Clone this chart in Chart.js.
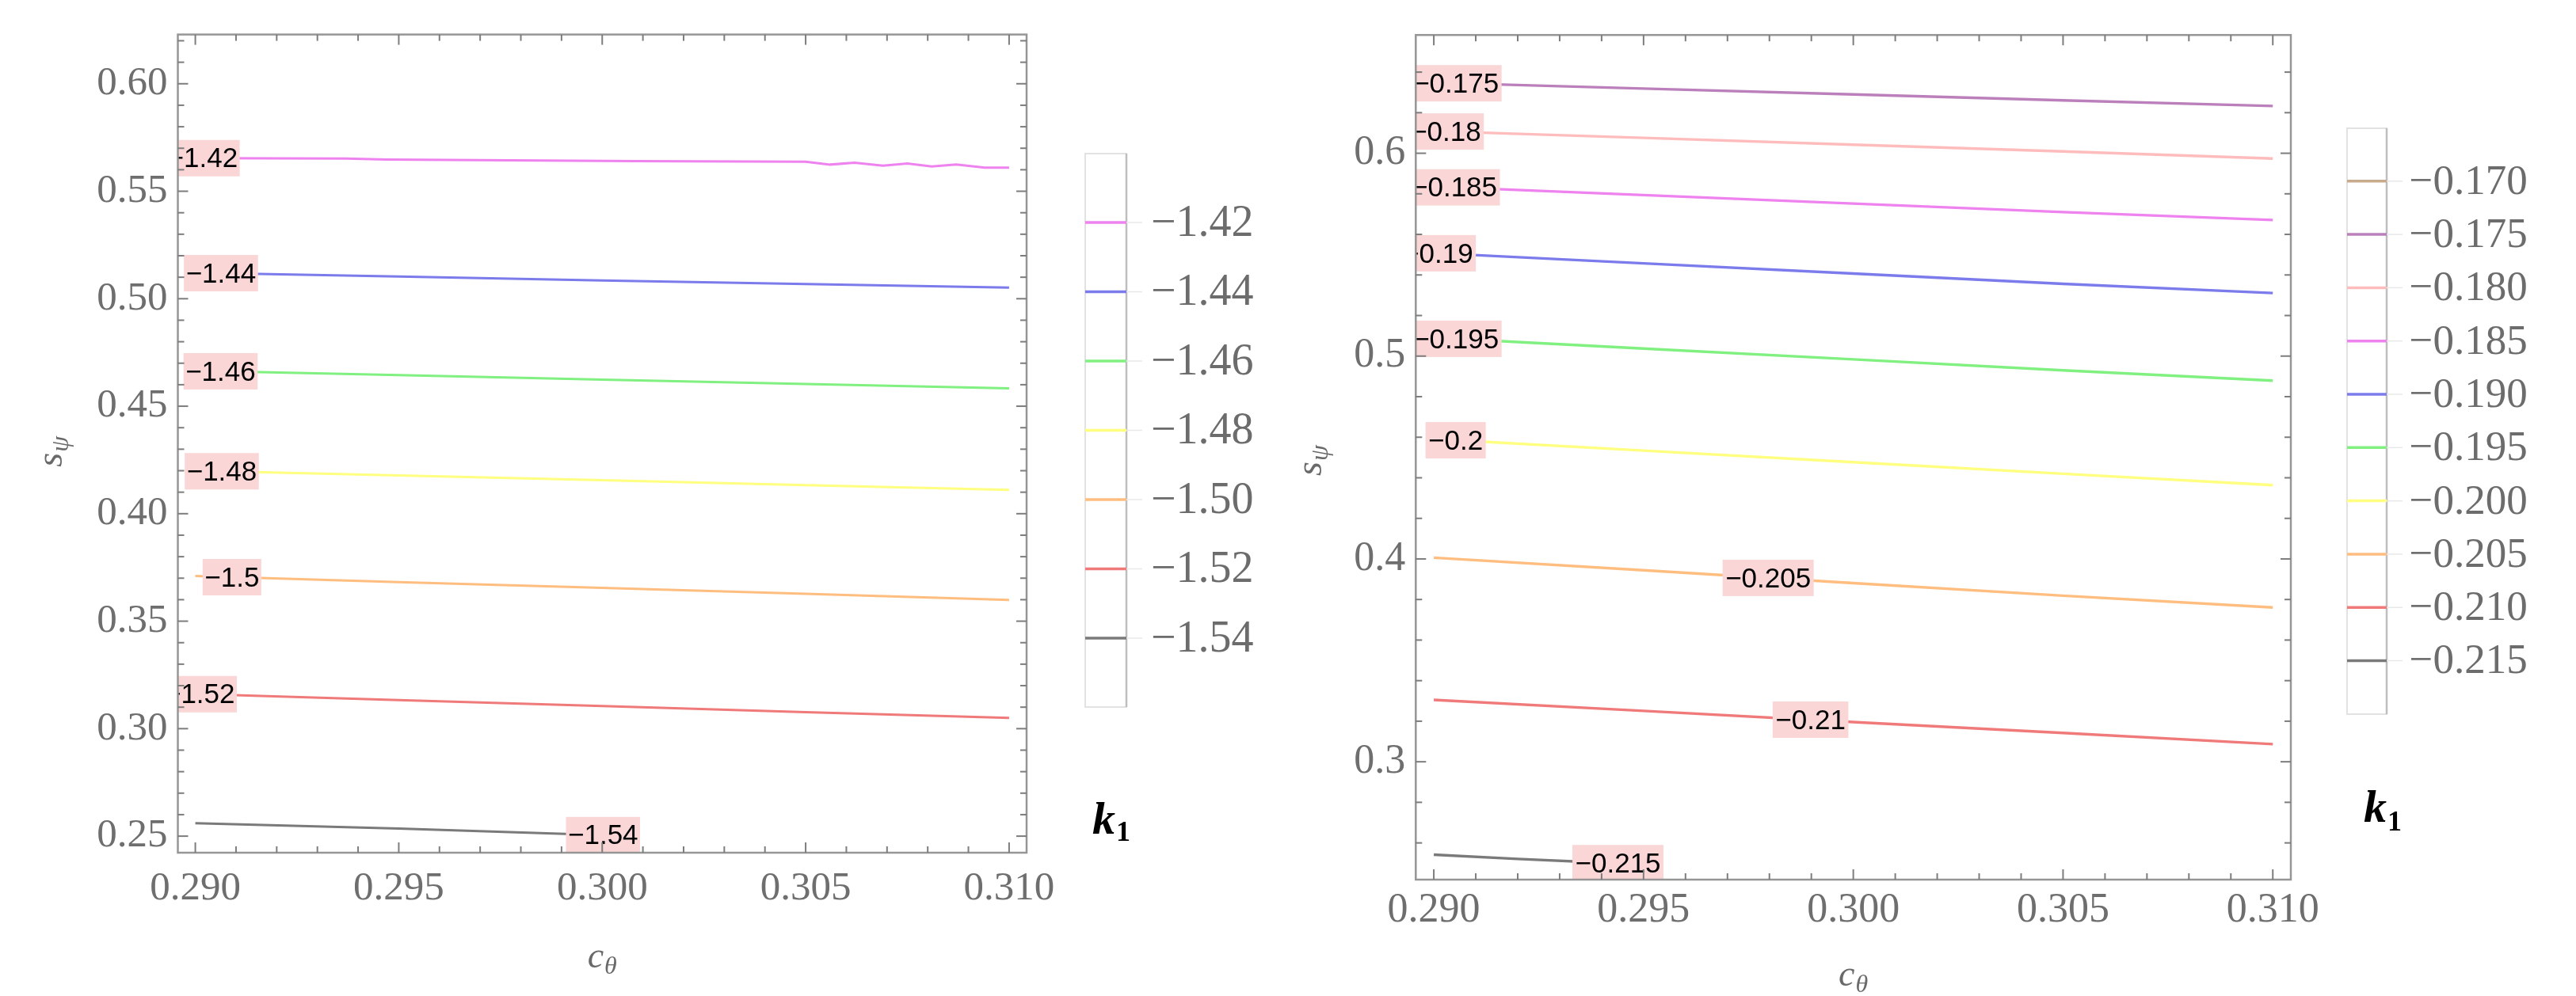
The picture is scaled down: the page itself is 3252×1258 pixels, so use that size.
<!DOCTYPE html>
<html><head><meta charset="utf-8">
<script src="https://cdn.jsdelivr.net/npm/chart.js@4.4.0/dist/chart.umd.min.js"></script>
<style>
html,body{margin:0;padding:0;background:#fff;}
body{width:3252px;height:1258px;position:relative;overflow:hidden;}
canvas{position:absolute;top:0;}
</style></head><body>
<canvas id="c1" width="1626" height="1258" style="left:0px"></canvas>
<canvas id="c2" width="1626" height="1258" style="left:1626px"></canvas>
<script>
// ================= DATA =================
// common x tick values / labels (c_theta)
const xTicks = [0.290, 0.295, 0.300, 0.305, 0.310];
const xTickLabels = ['0.290', '0.295', '0.300', '0.305', '0.310'];

// ---- left panel ----
const yTicksA = [0.25, 0.30, 0.35, 0.40, 0.45, 0.50, 0.55, 0.60];
const yTickLabelsA = ['0.25', '0.30', '0.35', '0.40', '0.45', '0.50', '0.55', '0.60'];
const levelsA = [-1.42, -1.44, -1.46, -1.48, -1.50, -1.52, -1.54];
const legendLabelsA = ['\u22121.42', '\u22121.44', '\u22121.46', '\u22121.48', '\u22121.50', '\u22121.52', '\u22121.54'];
const contourLabelsA = ['\u22121.42', '\u22121.44', '\u22121.46', '\u22121.48', '\u22121.5', '\u22121.52', '\u22121.54'];
const colorsA = ['#ee82ee', '#7b7bec', '#80f080', '#ffff80', '#ffbe80', '#f07a7a', '#7a7a7a'];
const xA_142 = [0.290, 0.2937, 0.2947, 0.3008, 0.3050, 0.3056, 0.3062, 0.3069, 0.3075, 0.3081, 0.3087, 0.3094, 0.3100];
const yA_142 = [0.5654, 0.5652, 0.5647, 0.5640, 0.5637, 0.5624, 0.5633, 0.5619, 0.5629, 0.5615, 0.5624, 0.5610, 0.5610];
const xA = [0.290, 0.295, 0.300, 0.305, 0.310];
const yA_144 = [0.5121, 0.5103, 0.5085, 0.5068, 0.5052];
const yA_146 = [0.4665, 0.4645, 0.4624, 0.4603, 0.4583];
const yA_148 = [0.4200, 0.4178, 0.4156, 0.4133, 0.4111];
const yA_150 = [0.3710, 0.3682, 0.3655, 0.3627, 0.3599];
const yA_152 = [0.3161, 0.3133, 0.3105, 0.3077, 0.3050];
const xA_154 = [0.290, 0.295, 0.300, 0.3008];
const yA_154 = [0.2560, 0.2535, 0.2505, 0.2500];
const labelXA = [0.29018, 0.29063, 0.29062, 0.29065, 0.29090, 0.29011, 0.30002];

// ---- right panel ----
const yTicksB = [0.3, 0.4, 0.5, 0.6];
const yTickLabelsB = ['0.3', '0.4', '0.5', '0.6'];
const levelsB = [-0.170, -0.175, -0.180, -0.185, -0.190, -0.195, -0.200, -0.205, -0.210, -0.215];
const legendLabelsB = ['\u22120.170', '\u22120.175', '\u22120.180', '\u22120.185', '\u22120.190', '\u22120.195', '\u22120.200', '\u22120.205', '\u22120.210', '\u22120.215'];
const legendColorsB = ['#c8aa8c', '#bb80bb', '#ffbcbc', '#ee82ee', '#7b7bec', '#80f080', '#ffff80', '#ffbe80', '#f07a7a', '#7a7a7a'];
const contourLabelsB = ['\u22120.175', '\u22120.18', '\u22120.185', '\u22120.19', '\u22120.195', '\u22120.2', '\u22120.205', '\u22120.21', '\u22120.215'];
const colorsB = ['#bb80bb', '#ffbcbc', '#ee82ee', '#7b7bec', '#80f080', '#ffff80', '#ffbe80', '#f07a7a', '#7a7a7a'];
const xB = [0.290, 0.295, 0.300, 0.305, 0.310];
const yB_175 = [0.6348, 0.6319, 0.6290, 0.6261, 0.6233];
const yB_180 = [0.6109, 0.6076, 0.6042, 0.6009, 0.5974];
const yB_185 = [0.5836, 0.5794, 0.5752, 0.5710, 0.5671];
const yB_190 = [0.5508, 0.5457, 0.5407, 0.5356, 0.5311];
const yB_195 = [0.5091, 0.5037, 0.4984, 0.4930, 0.4879];
const yB_200 = [0.4591, 0.4534, 0.4477, 0.4420, 0.4364];
const yB_205 = [0.4006, 0.3944, 0.3881, 0.3819, 0.3761];
const yB_210 = [0.3305, 0.3251, 0.3196, 0.3142, 0.3087];
const xB_215 = [0.290, 0.292, 0.2943];
const yB_215 = [0.2542, 0.2521, 0.2500];
const labelXB = [0.29053, 0.29029, 0.29049, 0.29010, 0.29053, 0.29052, 0.29797, 0.29898, 0.29439];

// ================= RENDERING =================
const SERIF = "'Liberation Serif','Times New Roman',serif";
const SANS = "'Liberation Sans',Arial,sans-serif";

function interp(xs, ys, x) {
  if (x <= xs[0]) return ys[0];
  for (let i = 1; i < xs.length; i++) {
    if (x <= xs[i]) { const t = (x - xs[i-1]) / (xs[i] - xs[i-1]); return ys[i-1] + t * (ys[i] - ys[i-1]); }
  }
  return ys[ys.length - 1];
}

function drawSub(ctx, main, sub, cx, baseY, mainFont, subFont, drop, color) {
  ctx.font = mainFont; const w1 = ctx.measureText(main).width;
  ctx.font = subFont; const w2 = ctx.measureText(sub).width;
  const x = cx - (w1 + w2 + 1) / 2;
  ctx.fillStyle = color; ctx.textAlign = 'left'; ctx.textBaseline = 'alphabetic';
  ctx.font = mainFont; ctx.fillText(main, x, baseY);
  ctx.font = subFont; ctx.fillText(sub, x + w1 + 1, baseY + drop);
}

function makeChart(id, cfg) {
  const datasets = cfg.contours.map((c, i) => ({
    label: cfg.contourLabels[i],
    data: c.x.map((x, j) => ({ x: x, y: c.y[j] })),
    borderColor: cfg.colors[i], backgroundColor: cfg.colors[i],
    borderWidth: cfg.lineW, showLine: true, pointRadius: 0, pointHoverRadius: 0, tension: 0, fill: false
  }));

  const decor = {
    id: 'decor',
    afterDatasetsDraw(chart) {
      const ctx = chart.ctx, a = chart.chartArea, xs = chart.scales.x, ys = chart.scales.y;
      // contour labels
      ctx.save();
      ctx.beginPath(); ctx.rect(a.left, a.top, a.right - a.left, a.bottom - a.top); ctx.clip();
      ctx.font = cfg.lblFont + 'px ' + SANS;
      cfg.contours.forEach((c, i) => {
        const lx = cfg.labelX[i];
        const ly = interp(c.x, c.y, lx);
        const px = xs.getPixelForValue(lx), py = ys.getPixelForValue(ly);
        const t = cfg.contourLabels[i];
        const w = ctx.measureText(t).width + 2 * cfg.lblPad, h = cfg.lblH;
        ctx.fillStyle = 'rgb(250,214,214)';
        ctx.fillRect(px - w / 2, py - h / 2, w, h);
        ctx.fillStyle = '#000';
        ctx.textAlign = 'center'; ctx.textBaseline = 'middle';
        ctx.fillText(t, px, py + 2);
      });
      ctx.restore();
    },
    afterDraw(chart) {
      const ctx = chart.ctx, a = chart.chartArea, xs = chart.scales.x, ys = chart.scales.y;
      ctx.save();
      // frame
      ctx.strokeStyle = 'rgb(150,150,150)'; ctx.lineWidth = 2.5;
      ctx.strokeRect(a.left, a.top, a.right - a.left, a.bottom - a.top);
      // ticks
      ctx.strokeStyle = 'rgb(125,125,125)'; ctx.lineWidth = 2;
      const tick = (x1, y1, x2, y2) => { ctx.beginPath(); ctx.moveTo(x1, y1); ctx.lineTo(x2, y2); ctx.stroke(); };
      const xmaj = cfg.xTicks, ymaj = cfg.yTicks;
      for (let k = Math.ceil(xs.min / cfg.xMinor - 1e-6); k * cfg.xMinor <= xs.max + 1e-9; k++) {
        const v = k * cfg.xMinor;
        const major = xmaj.some(m => Math.abs(m - v) < 1e-7);
        const L = major ? 13 : 8, p = xs.getPixelForValue(v);
        tick(p, a.bottom, p, a.bottom - L); tick(p, a.top, p, a.top + L);
      }
      for (let k = Math.ceil(ys.min / cfg.yMinor - 1e-6); k * cfg.yMinor <= ys.max + 1e-9; k++) {
        const v = k * cfg.yMinor;
        const major = ymaj.some(m => Math.abs(m - v) < 1e-7);
        const L = major ? 13 : 8, p = ys.getPixelForValue(v);
        tick(a.left, p, a.left + L, p); tick(a.right, p, a.right - L, p);
      }
      // axis titles
      const tc = 'rgb(105,105,105)';
      drawSub(ctx, 'c', '\u03b8', (a.left + a.right) / 2, cfg.xTitleBase,
        'italic ' + cfg.titleSize + 'px ' + SERIF, 'italic ' + Math.round(cfg.titleSize * 0.7) + 'px ' + SERIF, 8, tc);
      ctx.save();
      ctx.translate(cfg.yTitleBase, (a.top + a.bottom) / 2 + cfg.yTitleShift);
      ctx.rotate(-Math.PI / 2);
      drawSub(ctx, 's', '\u03c8', 0, 0,
        'italic ' + cfg.titleSize + 'px ' + SERIF, 'italic ' + Math.round(cfg.titleSize * 0.7) + 'px ' + SERIF, 8, tc);
      ctx.restore();
      // legend
      const L = cfg.legend;
      ctx.strokeStyle = 'rgb(226,226,226)'; ctx.lineWidth = 2;
      ctx.strokeRect(L.x0, L.y0, L.x1 - L.x0, L.y1 - L.y0);
      ctx.strokeStyle = 'rgb(190,190,190)'; ctx.lineWidth = 2.5;
      tick(L.x1, L.y0, L.x1, L.y1);
      ctx.font = L.font + 'px ' + SERIF;
      ctx.textAlign = 'left'; ctx.textBaseline = 'middle';
      cfg.legendLabels.forEach((t, i) => {
        const y = L.ey0 + i * L.step;
        ctx.strokeStyle = 'rgb(232,232,232)'; ctx.lineWidth = 1.5;
        tick(L.x1, y, L.x1 + 20, y);
        ctx.strokeStyle = cfg.legendColors[i]; ctx.lineWidth = 3.5;
        tick(L.x0, y, L.x1, y);
        ctx.fillStyle = 'rgb(108,108,108)';
        ctx.fillText(t, L.tx, y + 2);
      });
      // k_1 title
      ctx.fillStyle = '#000'; ctx.textBaseline = 'alphabetic';
      ctx.font = 'italic bold 58px ' + SERIF;
      ctx.fillText('k', L.kx, L.kBase);
      const kw = ctx.measureText('k').width;
      ctx.font = 'bold 36px ' + SERIF;
      ctx.fillText('1', L.kx + kw + 1, L.kBase + L.kDrop);
      ctx.restore();
    }
  };

  return new Chart(document.getElementById(id), {
    type: 'scatter',
    data: { datasets: datasets },
    options: {
      responsive: false, animation: false, devicePixelRatio: 1,
      layout: { padding: { top: cfg.padTop, right: cfg.padRight, left: 0, bottom: 0 } },
      plugins: { legend: { display: false }, tooltip: { enabled: false }, title: { display: false } },
      scales: {
        x: {
          type: 'linear', min: cfg.xMin, max: cfg.xMax,
          grid: { display: false, drawTicks: false }, border: { display: false },
          afterBuildTicks: s => { s.ticks = cfg.xTicks.map(v => ({ value: v })); },
          afterFit: s => { s.height = cfg.xAxisH; },
          ticks: {
            autoSkip: false, maxRotation: 0, padding: cfg.xPad, color: 'rgb(110,110,110)',
            font: { family: SERIF, size: cfg.tickSize },
            callback: (v, i) => cfg.xTickLabels[i]
          }
        },
        y: {
          type: 'linear', min: cfg.yMin, max: cfg.yMax,
          grid: { display: false, drawTicks: false }, border: { display: false },
          afterBuildTicks: s => { s.ticks = cfg.yTicks.map(v => ({ value: v })); },
          afterFit: s => { s.width = cfg.yAxisW; },
          ticks: {
            autoSkip: false, padding: 13, color: 'rgb(110,110,110)',
            font: { family: SERIF, size: cfg.tickSize },
            callback: (v, i) => cfg.yTickLabels[i]
          }
        }
      }
    },
    plugins: [decor]
  });
}

makeChart('c1', {
  contours: [
    { x: xA_142, y: yA_142 }, { x: xA, y: yA_144 }, { x: xA, y: yA_146 }, { x: xA, y: yA_148 },
    { x: xA, y: yA_150 }, { x: xA, y: yA_152 }, { x: xA_154, y: yA_154 }
  ],
  contourLabels: contourLabelsA, colors: colorsA, labelX: labelXA,
  legendLabels: legendLabelsA, legendColors: colorsA,
  xTicks: xTicks, xTickLabels: xTickLabels, yTicks: yTicksA, yTickLabels: yTickLabelsA,
  xMin: 0.28957, xMax: 0.31043, yMin: 0.2423, yMax: 0.6229,
  xMinor: 0.001, yMinor: 0.01,
  padTop: 6, padRight: 330, yAxisW: 224.5, xAxisH: 181, xPad: 15,
  tickSize: 51, titleSize: 46, xTitleBase: 1222, yTitleBase: 78, yTitleShift: 10,
  lineW: 3, lblFont: 35, lblPad: 2.5, lblH: 46,
  legend: { x0: 1370, x1: 1422, y0: 194, y1: 893, ey0: 281, step: 87.5, tx: 1453, font: 56,
            kx: 1379, kBase: 1053, kDrop: 9 }
});

makeChart('c2', {
  contours: [
    { x: xB, y: yB_175 }, { x: xB, y: yB_180 }, { x: xB, y: yB_185 }, { x: xB, y: yB_190 },
    { x: xB, y: yB_195 }, { x: xB, y: yB_200 }, { x: xB, y: yB_205 }, { x: xB, y: yB_210 },
    { x: xB_215, y: yB_215 }
  ],
  contourLabels: contourLabelsB, colors: colorsB, labelX: labelXB,
  legendLabels: legendLabelsB, legendColors: legendColorsB,
  xTicks: xTicks, xTickLabels: xTickLabels, yTicks: yTicksB, yTickLabels: yTickLabelsB,
  xMin: 0.28957, xMax: 0.31043, yMin: 0.2419, yMax: 0.6583,
  xMinor: 0.001, yMinor: 0.02,
  padTop: 6.2, padRight: 360, yAxisW: 161.3, xAxisH: 147, xPad: 8.5,
  tickSize: 52, titleSize: 46, xTitleBase: 1245, yTitleBase: 42, yTitleShift: 4,
  lineW: 3.4, lblFont: 35, lblPad: 3.5, lblH: 46,
  legend: { x0: 1337, x1: 1387, y0: 162, y1: 902, ey0: 228.8, step: 67.3, tx: 1415.5, font: 53,
            kx: 1358, kBase: 1038, kDrop: 11 }
});
</script>
</body></html>
